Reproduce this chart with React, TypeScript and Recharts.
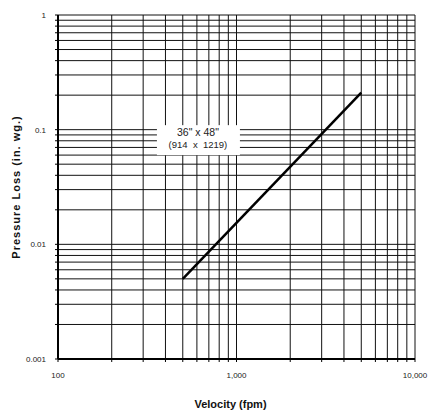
import React from 'react'
import { LineChart, Line, XAxis, YAxis, CartesianGrid, ReferenceDot } from 'recharts'

const xGrid = [100, 200, 300, 400, 500, 600, 700, 800, 900, 1000, 2000, 3000, 4000, 5000, 6000, 7000, 8000, 9000, 10000]
const yGrid = [
  0.001, 0.002, 0.003, 0.004, 0.005, 0.006, 0.007, 0.008, 0.009,
  0.01, 0.02, 0.03, 0.04, 0.05, 0.06, 0.07, 0.08, 0.09,
  0.1, 0.2, 0.3, 0.4, 0.5, 0.6, 0.7, 0.8, 0.9, 1,
]
const xLabels: Record<number, string> = { 100: '100', 1000: '1,000', 10000: '10,000' }
const yLabels: Record<number, string> = { 0.001: '0.001', 0.01: '0.01', 0.1: '0.1', 1: '1' }

const velocity = [500, 5000]
const pressureLoss = [0.005, 0.21]
const data = velocity.map((v, i) => ({ v, p: pressureLoss[i] }))

const ductSize = ['36" x 48"', '(914\u00a0\u00a0x\u00a0\u00a01219)']
const labelAt = { v: 608, p: 0.081 }

const font = '"Liberation Sans", Arial, sans-serif'

function SizeLabel(props: any) {
  const { cx, cy } = props
  return (
    <g>
      <rect x={cx - 41} y={cy - 15} width={83} height={30} fill="#fff" />
      <text x={cx} y={cy - 4} textAnchor="middle" fontSize={10.5} fontFamily={font} fill="#222">{ductSize[0]}</text>
      <text x={cx} y={cy + 8} textAnchor="middle" fontSize={9.5} fontFamily={font} fill="#222">{ductSize[1]}</text>
    </g>
  )
}

export default function App() {
  return (
    <div style={{ position: 'absolute', left: 0, top: 0, width: 429, height: 411, background: '#fff' }}>
      <LineChart width={429} height={411} data={data} margin={{ top: 15, right: 14, left: 0, bottom: 0 }}>
        <CartesianGrid stroke="#111" strokeWidth={1} fill="#fff" />
        <XAxis
          dataKey="v"
          type="number"
          scale="log"
          domain={[100, 10000]}
          ticks={xGrid}
          interval={0}
          tickFormatter={(t: number) => xLabels[t] ?? ''}
          tick={{ fontSize: 8, fontFamily: font, fill: '#222' }}
          tickSize={3}
          tickMargin={10}
          axisLine={{ stroke: '#000', strokeWidth: 2 }}
          tickLine={{ stroke: '#000' }}
          height={52}
          allowDataOverflow
          label={{ value: 'Velocity (fpm)', position: 'insideBottom', offset: 3, dx: -6, fontSize: 11, fontWeight: 'bold', fontFamily: font, fill: '#111' }}
        />
        <YAxis
          type="number"
          scale="log"
          domain={[0.001, 1]}
          ticks={yGrid}
          interval={0}
          tickFormatter={(t: number) => yLabels[t] ?? ''}
          tick={{ fontSize: 8, fontFamily: font, fill: '#222' }}
          tickSize={3}
          tickMargin={9}
          axisLine={{ stroke: '#000', strokeWidth: 2 }}
          tickLine={{ stroke: '#000' }}
          width={58}
          allowDataOverflow
          label={{ value: 'Pressure Loss (in. wg.)', angle: -90, position: 'insideLeft', offset: 16, style: { textAnchor: 'middle', letterSpacing: 1 }, fontSize: 11, fontWeight: 'bold', fontFamily: font, fill: '#111' }}
        />
        <Line dataKey="p" stroke="#000" strokeWidth={2.5} dot={false} isAnimationActive={false} />
        <ReferenceDot x={labelAt.v} y={labelAt.p} shape={SizeLabel} />
      </LineChart>
    </div>
  )
}
